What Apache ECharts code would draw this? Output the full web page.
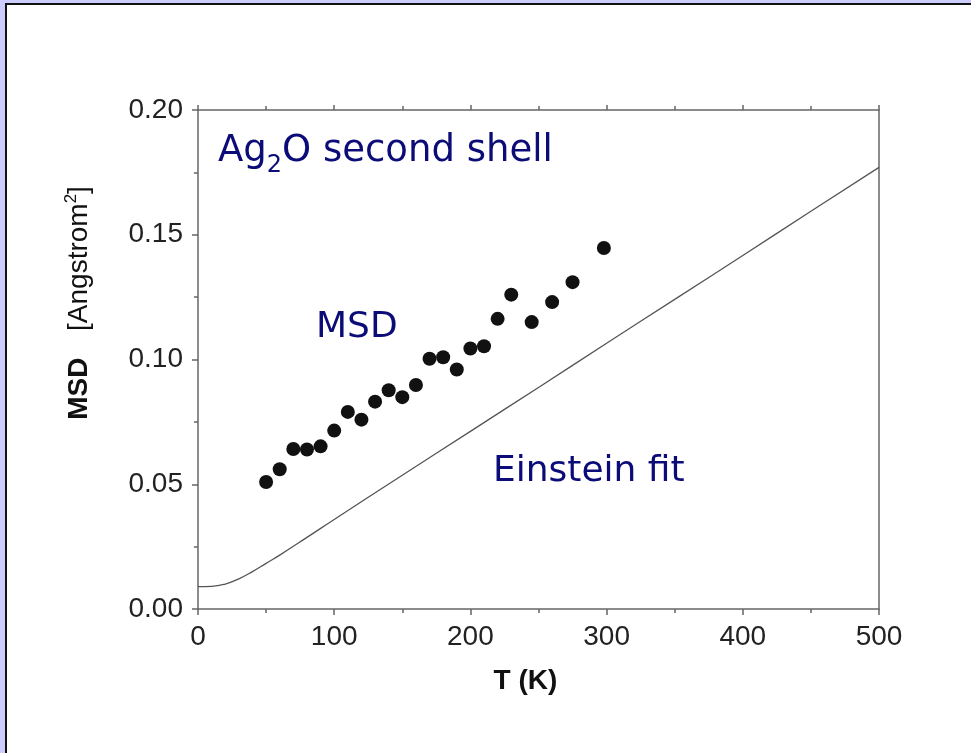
<!DOCTYPE html>
<html>
<head>
<meta charset="utf-8">
<script src="https://cdn.jsdelivr.net/npm/echarts@6/dist/echarts.min.js"></script>
<style>
    html, body { margin: 0; padding: 0; background: #ffffff; }
    #chart { width: 971px; height: 753px; }
</style>
</head>
<body>
<div id="chart"></div>
<script>
    // measured points (T in K, MSD in Angstrom^2)
    var msdT = [50, 60, 70, 80, 90, 100, 110, 120, 130, 140, 150, 160, 170, 180, 190, 200, 210, 220, 230, 245, 260, 275, 298];
    var msdVal = [0.0509, 0.0560, 0.0641, 0.0639, 0.0652, 0.0715, 0.0790, 0.0759, 0.0831, 0.0877, 0.0849, 0.0898,
        0.1003, 0.1009, 0.0960, 0.1044, 0.1053, 0.1163, 0.1260, 0.1150, 0.1230, 0.1310, 0.1447];

    // Einstein fit curve
    var fitT = [0, 10, 20, 30, 40, 50, 60, 80, 100, 150, 200, 250, 300, 350, 400, 450, 500];
    var fitVal = [0.0090, 0.0091, 0.0100, 0.0121, 0.0150, 0.0183, 0.0216, 0.0287, 0.0359, 0.0536, 0.0712,
        0.0888, 0.1065, 0.1241, 0.1417, 0.1594, 0.1770];

    var xTicks = ['0', '100', '200', '300', '400', '500'];
    var yTicks = ['0.00', '0.05', '0.10', '0.15', '0.20'];

    var axisColor = '#666';
    var tickFont = {fontFamily: '"Liberation Sans", Arial, sans-serif', fontSize: 28, color: '#222'};
    var noteColor = '#0c0c78';

    var chart = echarts.init(document.getElementById('chart'));

    chart.setOption({
        animation: false,
        backgroundColor: '#ffffff',
        grid: {left: 198, right: 92, top: 110, bottom: 144},
        xAxis: [{
            type: 'value', min: 0, max: 500, interval: 100, position: 'bottom',
            axisLine: {onZero: false, lineStyle: {color: axisColor, width: 1.5}},
            axisTick: {length: 6, lineStyle: {color: axisColor, width: 1.5}},
            minorTick: {show: true, splitNumber: 2, length: 4, lineStyle: {color: axisColor, width: 1.5}},
            axisLabel: Object.assign({margin: 14, formatter: function (v) { return xTicks[v / 100]; }}, tickFont),
            splitLine: {show: false},
            name: 'T (K)', nameLocation: 'middle', nameGap: 58,
            nameTextStyle: {
                fontFamily: '"Liberation Sans", Arial, sans-serif', fontWeight: 'bold', fontSize: 28, color: '#111',
                padding: [0, 26, 0, 0]
            }
        }, {
            type: 'value', min: 0, max: 500, interval: 100, position: 'top',
            axisLine: {onZero: false, lineStyle: {color: axisColor, width: 1.5}},
            axisTick: {length: 5, lineStyle: {color: axisColor, width: 1.5}},
            minorTick: {show: true, splitNumber: 2, length: 4, lineStyle: {color: axisColor, width: 1.5}},
            axisLabel: {show: false},
            splitLine: {show: false}
        }],
        yAxis: [{
            type: 'value', min: 0, max: 0.2, interval: 0.05, position: 'left',
            axisLine: {show: true, onZero: false, lineStyle: {color: axisColor, width: 1.5}},
            axisTick: {show: true, length: 6, lineStyle: {color: axisColor, width: 1.5}},
            minorTick: {show: true, splitNumber: 2, length: 4, lineStyle: {color: axisColor, width: 1.5}},
            axisLabel: Object.assign({margin: 15, formatter: function (v) { return yTicks[Math.round(v / 0.05)]; }}, tickFont),
            splitLine: {show: false}
        }, {
            type: 'value', min: 0, max: 0.2, interval: 0.05, position: 'right',
            axisLine: {show: true, onZero: false, lineStyle: {color: axisColor, width: 1.5}},
            axisTick: {show: false},
            axisLabel: {show: false},
            splitLine: {show: false}
        }],
        graphic: [
            // slide frame: lavender strip + dark rule on left and top
            {type: 'rect', left: 0, top: 0, shape: {width: 5, height: 753}, style: {fill: '#ccccff'}, silent: true},
            {type: 'rect', left: 0, top: 0, shape: {width: 971, height: 3}, style: {fill: '#ccccff'}, silent: true},
            {type: 'rect', left: 5, top: 3, shape: {width: 2, height: 750}, style: {fill: '#111'}, silent: true},
            {type: 'rect', left: 5, top: 3, shape: {width: 966, height: 2}, style: {fill: '#111'}, silent: true},
            // y axis title
            {
                type: 'text', x: 79, y: 303, rotation: Math.PI / 2,
                style: {
                    text: '{b|MSD}        {n|[Angstrom}{s|2}{n|]}',
                    align: 'center', verticalAlign: 'middle',
                    rich: {
                        b: {fontFamily: '"Liberation Sans", Arial, sans-serif', fontWeight: 'bold', fontSize: 28, fill: '#111', lineHeight: 32},
                        n: {fontFamily: '"Liberation Sans", Arial, sans-serif', fontSize: 28, fill: '#111', lineHeight: 32},
                        s: {fontFamily: '"Liberation Sans", Arial, sans-serif', fontSize: 17, fill: '#111', lineHeight: 32, verticalAlign: 'top'}
                    }
                }
            },
            // annotations
            {
                type: 'text', x: 218, y: 153,
                style: {
                    text: '{a|Ag}{s|2}{a|O second shell}',
                    align: 'left', verticalAlign: 'middle',
                    rich: {
                        a: {fontFamily: '"DejaVu Sans", Verdana, sans-serif', fontSize: 37, fill: noteColor, lineHeight: 40, verticalAlign: 'top'},
                        s: {fontFamily: '"DejaVu Sans", Verdana, sans-serif', fontSize: 24, fill: noteColor, lineHeight: 24,
                            padding: [21, 0, 0, 0], verticalAlign: 'top'}
                    }
                }
            },
            {
                type: 'text', x: 316, y: 328,
                style: {text: 'MSD', fontFamily: '"DejaVu Sans", Verdana, sans-serif', fontSize: 36, fill: noteColor, align: 'left', verticalAlign: 'middle'}
            },
            {
                type: 'text', x: 493, y: 472,
                style: {text: 'Einstein fit', fontFamily: '"DejaVu Sans", Verdana, sans-serif', fontSize: 36, fill: noteColor, align: 'left', verticalAlign: 'middle'}
            }
        ],
        series: [{
            name: 'Einstein fit',
            type: 'line',
            smooth: true,
            symbol: 'none',
            data: fitT.map(function (t, i) { return [t, fitVal[i]]; }),
            lineStyle: {color: '#555', width: 1.3}
        }, {
            name: 'MSD',
            type: 'scatter',
            symbol: 'circle',
            symbolSize: 14,
            data: msdT.map(function (t, i) { return [t, msdVal[i]]; }),
            itemStyle: {color: '#111', opacity: 1}
        }]
    });
</script>
</body>
</html>
